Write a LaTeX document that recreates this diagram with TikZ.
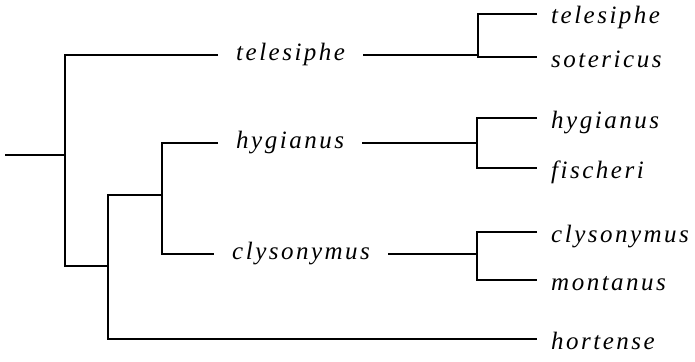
\documentclass[tikz,border=0pt]{standalone}
\usepackage{fontspec}
\usepackage{tikz}
\usetikzlibrary{positioning}
\newfontfamily\taxonfont{Liberation Serif}[LetterSpace=10]

\tikzset{
    branch/.style={line width=1.3pt},
    tip/.style={anchor=west, inner xsep=14pt, inner ysep=0pt, font=\taxonfont\itshape\fontsize{25}{25}\selectfont, text height=20pt, text depth=0pt},
    inner/.style={tip, inner xsep=18pt, text height=15pt, text depth=5pt}
}

\begin{document}
\begin{tikzpicture}[x=1pt, y=-1pt]
    \useasboundingbox (0,0) rectangle (695,361);

    % Junctions of the tree
    \coordinate (root) at (5,155);
    \coordinate (jA) at (65,155);
    \coordinate (jB) at (108,266);
    \coordinate (jC) at (162,195);

    % Inner labels
    \node[inner] (itel) at (218,55) {telesiphe};
    \node[inner] (ihyg) at (218,143) {hygianus};
    \node[inner] (icly) at (214,254) {clysonymus};

    % Right side junctions
    \coordinate (kA) at (478,55);
    \coordinate (kB) at (477,143);
    \coordinate (kC) at (477,254);

    % Tips
    \node[tip] (ttel) at (537,14) {telesiphe};
    \node[tip] (tsot) at (537,57) {sotericus};
    \node[tip] (thyg) at (537,118) {hygianus};
    \node[tip] (tfis) at (537,168) {fischeri};
    \node[tip] (tcly) at (537,232) {clysonymus};
    \node[tip] (tmon) at (537,280) {montanus};
    \node[tip] (thor) at (537,339) {hortense};

    % Left part of the tree
    \draw[branch] (root) -- (jA);
    \draw[branch] (itel.west) -| (jA) |- (jB);
    \draw[branch] (jB) |- (thor.west);
    \draw[branch] (jB) |- (jC -| jB) -- (jC);
    \draw[branch] (ihyg.west) -| (jC) |- (icly.west);

    % Right part of the tree
    \draw[branch] (itel.east) -- (kA);
    \draw[branch] (ttel.west) -| (kA) |- (tsot.west);
    \draw[branch] (ihyg.east) -- (kB);
    \draw[branch] (thyg.west) -| (kB) |- (tfis.west);
    \draw[branch] (icly.east) -- (kC);
    \draw[branch] (tcly.west) -| (kC) |- (tmon.west);
\end{tikzpicture}
\end{document}
